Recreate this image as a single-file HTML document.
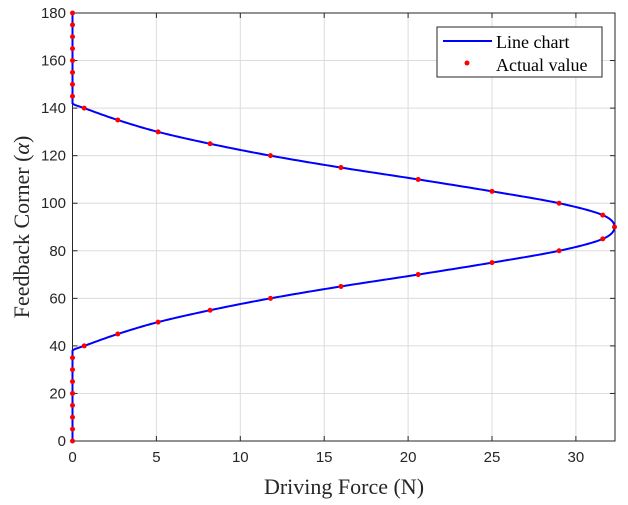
<!DOCTYPE html>
<html><head><meta charset="utf-8"><style>body{margin:0;background:#fff}svg{display:block}</style></head>
<body>
<svg id="s" width="628" height="505" xmlns="http://www.w3.org/2000/svg" font-family="Liberation Sans, sans-serif">
<rect width="628" height="505" fill="#fff"/>
<g id="grid" stroke="#dcdcdc" stroke-width="1"></g>
<g id="ticks" stroke="#262626" stroke-width="1"></g>
<rect x="72.5" y="13" width="542.5" height="428" fill="none" stroke="#262626" stroke-width="1"/>
<g id="lbl" font-size="15" fill="#262626"></g>
<path id="curve" fill="none" stroke="#0000ff" stroke-width="2"/>
<g id="pts" fill="#ff0000"></g>
<text x="344" y="494" font-family="Liberation Serif, serif" font-size="22" fill="#262626" text-anchor="middle">Driving Force (N)</text>
<text transform="translate(29,227) rotate(-90)" font-family="Liberation Serif, serif" font-size="22" fill="#262626" text-anchor="middle">Feedback Corner (<tspan font-style="italic">α</tspan>)</text>
<rect x="437" y="27" width="165" height="50" fill="#fff" stroke="#262626" stroke-width="1"/>
<line x1="443" y1="41" x2="492" y2="41" stroke="#0000ff" stroke-width="2"/>
<circle cx="467" cy="63" r="2.5" fill="#ff0000"/>
<text x="496" y="48" font-family="Liberation Serif, serif" font-size="18" fill="#000">Line chart</text>
<text x="496" y="71" font-family="Liberation Serif, serif" font-size="18" fill="#000">Actual value</text>
</svg>
<script>
const X0=72.5,KX=16.78,Y0=441,KY=428/180,NS="http://www.w3.org/2000/svg";
const px=v=>X0+v*KX, py=a=>Y0-a*KY;
function el(p,t,a){const e=document.createElementNS(NS,t);for(const k in a)e.setAttribute(k,a[k]);p.appendChild(e);return e;}
const g=document.getElementById('grid'),tk=document.getElementById('ticks'),lb=document.getElementById('lbl');
for(let v=5;v<=30;v+=5){el(g,'line',{x1:px(v),x2:px(v),y1:13,y2:441});}
for(let v=0;v<=30;v+=5){el(tk,'line',{x1:px(v),x2:px(v),y1:441,y2:436});el(tk,'line',{x1:px(v),x2:px(v),y1:13,y2:18});
 el(lb,'text',{x:px(v),y:462,'text-anchor':'middle'}).textContent=v;}
for(let a=0;a<=180;a+=20){if(a>0&&a<180)el(g,'line',{x1:72.5,x2:615,y1:py(a),y2:py(a)});
 el(tk,'line',{x1:72.5,x2:77.5,y1:py(a),y2:py(a)});el(tk,'line',{x1:615,x2:610,y1:py(a),y2:py(a)});
 el(lb,'text',{x:66,y:py(a)+5,'text-anchor':'end'}).textContent=a;}
const D=[0,5,10,15,20,25,30,35,40,45,50,52,60],F=[32.3,31.6,29,25,20.6,16,11.8,8.2,5.1,2.7,0.7,0,0];
function f(a){const d=Math.abs(a-90);if(d>=52)return 0;let i=0;while(D[i+1]<d)i++;
 const p0=F[Math.max(i-1,0)],p1=F[i],p2=F[i+1],p3=F[Math.min(i+2,F.length-1)];
 const h0=D[i+1]-D[i],t=(d-D[i])/h0;
 const m1=i>0?(p2-p0)/(D[i+1]-D[i-1])*h0:0,m2=(p3-p1)/(D[Math.min(i+2,D.length-1)]-D[i])*h0;
 const t2=t*t,t3=t2*t;return Math.max(0,(2*t3-3*t2+1)*p1+(t3-2*t2+t)*m1+(-2*t3+3*t2)*p2+(t3-t2)*m2);}
let d='';for(let a=0;a<=180;a+=0.25){d+=(a?'L':'M')+px(f(a)).toFixed(2)+','+py(a).toFixed(2);}
document.getElementById('curve').setAttribute('d',d);
const pts=document.getElementById('pts');for(let a=0;a<=180;a+=5)el(pts,'circle',{cx:px(f(a)),cy:py(a),r:2.5});
</script>
</body></html>
